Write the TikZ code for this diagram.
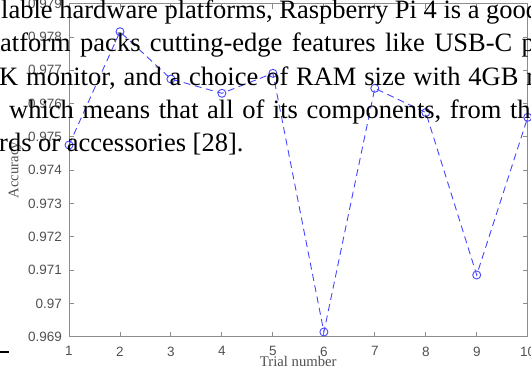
\documentclass[tikz,border=0pt]{standalone}
\usepackage{fontspec}
\setmainfont{Liberation Serif}
\newfontfamily\axfont{Liberation Sans}
\definecolor{axgray}{RGB}{140,140,140}
\definecolor{labgray}{RGB}{80,80,80}
\definecolor{datablue}{RGB}{70,70,255}
\begin{document}
\begin{tikzpicture}[x=1pt,y=-1pt,
  axline/.style={draw=axgray, line width=0.9pt},
  ticklab/.style={font=\axfont\fontsize{13.5}{14}\selectfont, text=labgray, inner sep=0pt},
  axtitle/.style={font=\fontsize{14.7}{16}\selectfont, text=labgray, inner sep=0pt},
  dataline/.style={draw=datablue, line width=0.9pt, dash pattern=on 7pt off 4.5pt},
  datapt/.style={circle, draw=datablue, line width=0.9pt, minimum size=8pt, inner sep=0pt},
  bodytext/.style={font=\fontsize{26.5}{33}\selectfont, text=black, inner sep=0pt, anchor=base west}]
\useasboundingbox (0,0) rectangle (531,376);
\clip (0,0) rectangle (531,376);
% axes box
\draw[axline] (69,3.7) rectangle (527.7,336.7);
% y ticks
\foreach \v/\t in {0/0.969,1/0.97,2/0.971,3/0.972,4/0.973,5/0.974,6/0.975,7/0.976,8/0.977,9/0.978,10/0.979}{
  \draw[axline] (69,336.7-\v*33.3) -- (74,336.7-\v*33.3);
  \draw[axline] (527.7,336.7-\v*33.3) -- (522.7,336.7-\v*33.3);
  \node[ticklab, anchor=east] (ylab\v) at (62,336.7-\v*33.3) {\t};
}
% x ticks
\foreach \i in {1,...,10}{
  \draw[axline] (69+\i*50.97-50.97,336.7) -- (69+\i*50.97-50.97,331.7);
  \draw[axline] (69+\i*50.97-50.97,3.7) -- (69+\i*50.97-50.97,8.7);
  \node[ticklab, anchor=north] (xlab\i) at (69+\i*50.97-50.97,346.5) {\i};
}
\node[axtitle] (xtitle) at (298.3,361) {Trial number};
\node[axtitle, rotate=90] (ytitle) at (15,170) {Accuracy};
% data
\node[datapt] (p1) at (69,145) {};
\node[datapt] (p2) at (120,31.7) {};
\node[datapt] (p3) at (170.9,79) {};
\node[datapt] (p4) at (221.9,93.3) {};
\node[datapt] (p5) at (272.9,73.3) {};
\node[datapt] (p6) at (323.9,332) {};
\node[datapt] (p7) at (374.8,88.3) {};
\node[datapt] (p8) at (425.8,112.5) {};
\node[datapt] (p9) at (476.7,275) {};
\node[datapt] (p10) at (527.7,117.3) {};
\draw[dataline] (p1.center) -- (p2.center) -- (p3.center) -- (p4.center) -- (p5.center) -- (p6.center) -- (p7.center) -- (p8.center) -- (p9.center) -- (p10.center);
% overlaid page text
\node[bodytext] (l1) at (1,18.2) {lable hardware platforms, Raspberry Pi 4 is a good};
\node[bodytext] (l2) at (0,51.7) {\spaceskip=9.4pt atform packs cutting-edge features like USB-C power};
\node[bodytext] (l3) at (-1,85) {\spaceskip=7.85pt K monitor, and a choice of RAM size with 4GB ram};
\node[bodytext] (l4) at (9,118.4) {\spaceskip=8.6pt which means that all of its components, from the};
\node[bodytext] (l5) at (-1,151.7) {rds or accessories [28].};
\draw[black, line width=1.3pt] (0,352) -- (9,352);
\end{tikzpicture}
\end{document}
